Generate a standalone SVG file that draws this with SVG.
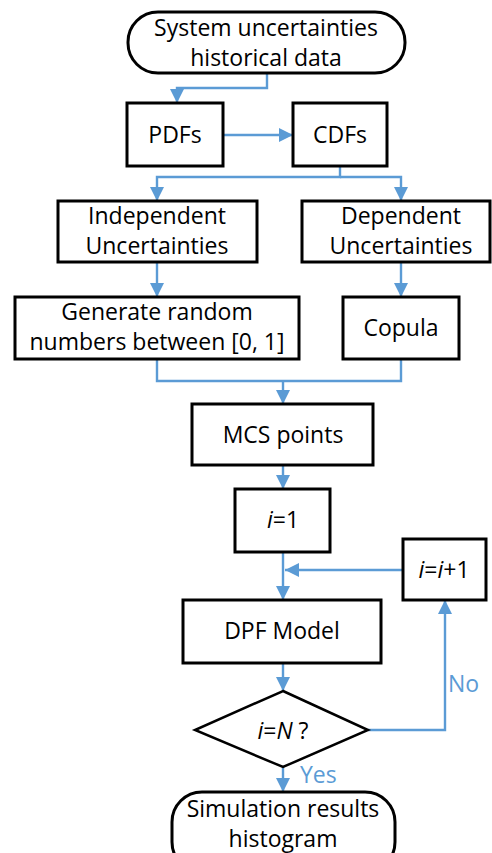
<svg xmlns="http://www.w3.org/2000/svg" width="492" height="853" viewBox="0 0 492 853">
  <style>
    .box { fill: #ffffff; stroke: #000000; stroke-width: 3; }
    .dia { fill: #ffffff; stroke: #000000; stroke-width: 2.5; }
    .lbl { font-family: "Open Sans", "Liberation Sans", sans-serif; font-size: 23px; fill: #000000; text-anchor: middle; }
    .edge { fill: none; stroke: #5B9BD5; stroke-width: 2.4; }
    .elbl { font-family: "Open Sans", "Liberation Sans", sans-serif; font-size: 23px; fill: #5B9BD5; }
    .it { font-style: italic; }
  </style>
  <defs>
    <marker id="arrow" viewBox="0 0 10 10" refX="10" refY="5" markerWidth="14" markerHeight="14" markerUnits="userSpaceOnUse" orient="auto">
      <path d="M0,0 L10,5 L0,10 z" fill="#5B9BD5"/>
    </marker>
  </defs>

  <rect width="492" height="853" fill="#ffffff"/>

  <!-- connectors -->
  <g id="connectors">
    <path class="edge" d="M267,73 V88 H177 V103" marker-end="url(#arrow)"/>
    <path class="edge" d="M223,135 H293" marker-end="url(#arrow)"/>
    <path class="edge" d="M340,166 V177 H157 V201" marker-end="url(#arrow)"/>
    <path class="edge" d="M340,177 H401 V201" marker-end="url(#arrow)"/>
    <path class="edge" d="M157,262 V297" marker-end="url(#arrow)"/>
    <path class="edge" d="M401,262 V297" marker-end="url(#arrow)"/>
    <path class="edge" d="M157,359 V381 H401 V359"/>
    <path class="edge" d="M283,381 V404" marker-end="url(#arrow)"/>
    <path class="edge" d="M283,465 V489" marker-end="url(#arrow)"/>
    <path class="edge" d="M283,552 V600" marker-end="url(#arrow)"/>
    <path class="edge" d="M403,570 H285" marker-end="url(#arrow)"/>
    <path class="edge" d="M283,663 V691" marker-end="url(#arrow)"/>
    <path class="edge" d="M368,730 H445 V600" marker-end="url(#arrow)"/>
    <path class="edge" d="M283,767 V792" marker-end="url(#arrow)"/>
    <text class="elbl" x="448" y="692">No</text>
    <text class="elbl" x="300" y="783">Yes</text>
  </g>

  <!-- nodes -->
  <g id="start">
    <rect class="box" x="128" y="12" width="277" height="61" rx="30" ry="30"/>
    <text class="lbl" x="266" y="36">System uncertainties</text>
    <text class="lbl" x="266" y="66">historical data</text>
  </g>
  <g id="pdfs">
    <rect class="box" x="127" y="103" width="96" height="63"/>
    <text class="lbl" x="175" y="143">PDFs</text>
  </g>
  <g id="cdfs">
    <rect class="box" x="293" y="103" width="94" height="63"/>
    <text class="lbl" x="340" y="143">CDFs</text>
  </g>
  <g id="independent">
    <rect class="box" x="58" y="201" width="199" height="61"/>
    <text class="lbl" x="157" y="224">Independent</text>
    <text class="lbl" x="157" y="254">Uncertainties</text>
  </g>
  <g id="dependent">
    <rect class="box" x="302" y="201" width="188" height="61"/>
    <text class="lbl" x="401" y="224">Dependent</text>
    <text class="lbl" x="401" y="254">Uncertainties</text>
  </g>
  <g id="generate">
    <rect class="box" x="15" y="297" width="284" height="62"/>
    <text class="lbl" x="157" y="320">Generate random</text>
    <text class="lbl" x="157" y="350">numbers between [0, 1]</text>
  </g>
  <g id="copula">
    <rect class="box" x="343" y="297" width="116" height="62"/>
    <text class="lbl" x="401" y="336">Copula</text>
  </g>
  <g id="mcs">
    <rect class="box" x="192" y="404" width="181" height="61"/>
    <text class="lbl" x="283" y="443">MCS points</text>
  </g>
  <g id="init">
    <rect class="box" x="235" y="489" width="95" height="63"/>
    <text class="lbl" x="283" y="528"><tspan class="it">i</tspan>=1</text>
  </g>
  <g id="increment">
    <rect class="box" x="403" y="539" width="83" height="61"/>
    <text class="lbl" x="444" y="578"><tspan class="it">i</tspan>=<tspan class="it">i</tspan>+1</text>
  </g>
  <g id="dpf">
    <rect class="box" x="183" y="600" width="198" height="63"/>
    <text class="lbl" x="282" y="639">DPF Model</text>
  </g>
  <g id="check">
    <polygon class="dia" points="283,691 368,730 283,767 195,730"/>
    <text class="lbl" x="283" y="739"><tspan class="it">i</tspan>=<tspan class="it">N</tspan> ?</text>
  </g>
  <g id="end">
    <rect class="box" x="172" y="792" width="223" height="80" rx="30" ry="30"/>
    <text class="lbl" x="283" y="817">Simulation results</text>
    <text class="lbl" x="283" y="847">histogram</text>
  </g>
</svg>
